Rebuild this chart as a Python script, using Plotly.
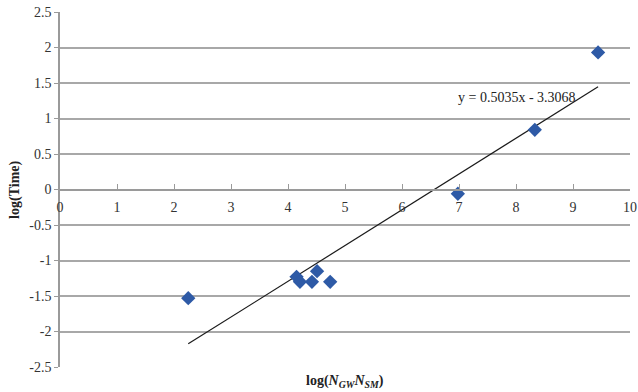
import plotly.graph_objects as go

# Data
x_vals = [2.25, 4.15, 4.21, 4.42, 4.51, 4.74, 6.98, 8.33, 9.44]
y_vals = [-1.53, -1.23, -1.30, -1.30, -1.15, -1.30, -0.06, 0.84, 1.93]
slope = 0.5035
intercept = -3.3068
x_ticks = list(range(0, 11))
y_ticks = [2.5, 2, 1.5, 1, 0.5, 0, -0.5, -1, -1.5, -2, -2.5]
y_tick_text = ["2.5", "2", "1.5", "1", "0.5", "0", "-0.5", "-1", "-1.5", "-2", "-2.5"]

font_family = "Liberation Serif, Times New Roman, serif"

x0, x1 = min(x_vals), max(x_vals)
fig = go.Figure()
fig.add_trace(go.Scatter(
    x=[x0, x1], y=[slope * x0 + intercept, slope * x1 + intercept],
    mode="lines", line=dict(color="#1a1a1a", width=1.2), showlegend=False,
    hoverinfo="skip"))
fig.add_trace(go.Scatter(
    x=x_vals, y=y_vals, mode="markers",
    marker=dict(symbol="diamond", size=11, color="#2E5AA6"),
    showlegend=False))

fig.add_annotation(x=8.02, y=1.29, xref="x", yref="y",
                   text="y = 0.5035x - 3.3068", showarrow=False,
                   font=dict(family=font_family, size=14, color="#222"))

fig.add_annotation(x=0.5, y=-0.012, xref="paper", yref="paper",
                   xanchor="center", yanchor="top",
                   text="<b>log(<i>N</i><sub><i>GW</i></sub><i>N</i><sub><i>SM</i></sub>)</b>",
                   showarrow=False,
                   font=dict(family=font_family, size=14, color="#222"))
fig.add_annotation(x=-0.08, y=0.5, xref="paper", yref="paper",
                   xanchor="center", yanchor="middle", textangle=-90,
                   text="<b>log(Time)</b>", showarrow=False,
                   font=dict(family=font_family, size=14, color="#222"))

fig.update_layout(
    width=638, height=392,
    margin=dict(l=60, r=8, t=12, b=25, autoexpand=False),
    plot_bgcolor="white", paper_bgcolor="white",
    font=dict(family=font_family, size=14, color="#333"),
)
fig.update_xaxes(
    range=[0, 10], tickvals=x_ticks, ticktext=[str(v) for v in x_ticks],
    anchor="free", position=0.5, automargin=False,
    showgrid=False, zeroline=False,
    showline=True, linecolor="#9a9a9a", linewidth=1.5,
    ticks="inside", ticklen=5, tickcolor="#9a9a9a", tickwidth=1,
    ticklabelstandoff=5,
)
fig.update_yaxes(
    range=[-2.5, 2.5], tickvals=y_ticks, ticktext=y_tick_text, automargin=False,
    showgrid=True, gridcolor="#a8a8a8", gridwidth=1.5,
    zeroline=False, showline=True, linecolor="#9a9a9a", linewidth=1.5,
    ticks="outside", ticklen=4, tickcolor="#9a9a9a",
)

fig.write_html("out.html", config={"displayModeBar": False},
               post_script="document.body.style.margin='0px';document.body.style.overflow='hidden';")
